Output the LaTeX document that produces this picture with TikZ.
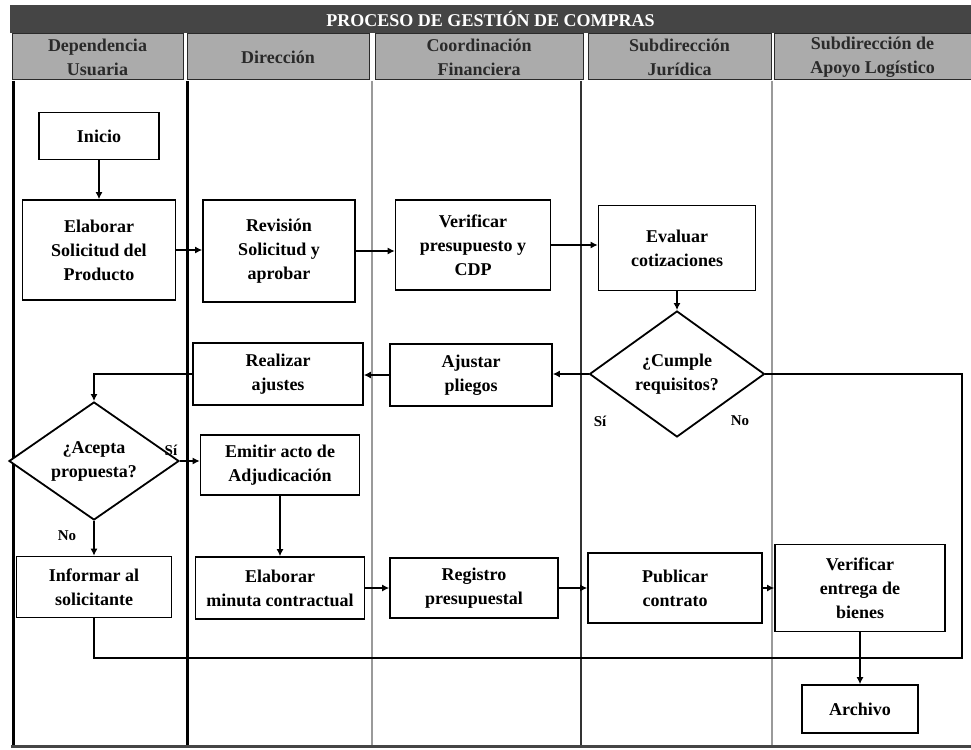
\documentclass[tikz,border=0pt]{standalone}
\usepackage{fontspec}
\setmainfont{Liberation Serif}
\usetikzlibrary{shapes.geometric,arrows.meta}
\definecolor{titlebg}{HTML}{454545}
\definecolor{headbg}{HTML}{ABABAB}
\definecolor{headfg}{HTML}{2A2A2A}
\definecolor{lanegray}{HTML}{9A9A9A}
\begin{document}
\begin{tikzpicture}[x=1pt,y=-1pt,
  txt/.style={font=\bfseries\fontsize{18}{24}\selectfont, align=center},
  box/.style={txt, draw=black, line width=1.6pt, fill=white, rectangle, inner sep=1pt},
  decision/.style={txt, draw=black, line width=1.8pt, fill=white, diamond, aspect=1.45, inner sep=0pt},
  head/.style={draw=headfg, line width=1pt, fill=headbg, text=headfg, align=center, inner sep=0pt, font=\bfseries\fontsize{18}{24}\selectfont},
  flow/.style={draw=black, line width=1.8pt, -{Latex[length=7pt,width=7pt]}},
  plain/.style={draw=black, line width=1.8pt},
  lbl/.style={font=\bfseries\fontsize{15}{17}\selectfont, inner sep=0pt},
  lanethick/.style={draw=black, line width=3pt},
  lanethin/.style={draw=lanegray, line width=1.3pt},
  lanedark/.style={draw=black!80, line width=1.5pt}
]
\useasboundingbox (0,0) rectangle (971,749);
% title bar
\node[fill=titlebg, text=white, minimum width=961pt, minimum height=28pt, inner sep=0pt, font=\bfseries\fontsize{18}{20}\selectfont] (title) at (490.5,19) {PROCESO DE GESTIÓN DE COMPRAS};
% headers
\node[head, minimum width=171pt, minimum height=46pt] (h1) at (97.5,57) {Dependencia\\Usuaria};
\node[head, minimum width=182pt, minimum height=46pt] (h2) at (278,57) {Dirección};
\node[head, minimum width=208pt, minimum height=46pt] (h3) at (479,57) {Coordinación\\Financiera};
\node[head, minimum width=183pt, minimum height=46pt] (h4) at (679.5,57) {Subdirección\\Jurídica};
\node[head, minimum width=197pt, minimum height=46pt] (h5) at (872.5,57) {Subdirección de\\Apoyo Logístico};
% lanes
\draw[lanethick] (13,81) -- (13,745);
\draw[lanethick] (187,81) -- (187,745);
\draw[lanethin] (372,81) -- (372,745);
\draw[lanedark] (581,81) -- (581,745);
\draw[lanethin] (772,81) -- (772,745);
\draw[draw=titlebg, line width=3pt] (11,746) -- (971,746);
% nodes
\node[box, minimum width=120pt, minimum height=47pt] (start) at (99,136) {Inicio};
\node[box, minimum width=153pt, minimum height=100pt] (n1) at (99,250) {Elaborar\\Solicitud del\\Producto};
\node[box, minimum width=152pt, minimum height=102pt] (n2) at (279,251) {Revisión\\Solicitud y\\aprobar};
\node[box, minimum width=155pt, minimum height=90pt] (n3) at (473,245) {Verificar\\presupuesto y\\CDP};
\node[box, minimum width=157pt, minimum height=85pt] (n4) at (677,248) {Evaluar\\cotizaciones};
\node[decision, minimum width=175pt, minimum height=126pt] (d2) at (677,374) {¿Cumple\\requisitos?};
\node[box, minimum width=162pt, minimum height=62pt] (n5) at (471,375) {Ajustar\\pliegos};
\node[box, minimum width=170pt, minimum height=62pt] (n6) at (278,374) {Realizar\\ajustes};
\node[decision, minimum width=170pt, minimum height=118pt] (d1) at (94,461) {¿Acepta\\propuesta?};
\node[box, minimum width=159pt, minimum height=60pt] (n7) at (280,465) {Emitir acto de\\Adjudicación};
\node[box, minimum width=155pt, minimum height=61pt] (n8) at (94,587) {Informar al\\solicitante};
\node[box, minimum width=169pt, minimum height=62pt] (n9) at (280,588) {Elaborar\\minuta contractual};
\node[box, minimum width=168pt, minimum height=60pt] (n10) at (474,588) {Registro\\presupuestal};
\node[box, minimum width=174pt, minimum height=70pt] (n11) at (675,588) {Publicar\\contrato};
\node[box, minimum width=170pt, minimum height=87pt] (n12) at (860,588) {Verificar\\entrega de\\bienes};
\node[box, minimum width=116pt, minimum height=48pt] (end) at (860,709) {Archivo};
% labels
\node[lbl] (ld2a) at (600,421) {Sí};
\node[lbl] (ld2b) at (740,421) {No};
\node[lbl] (ld1a) at (171,450) {Sí};
\node[lbl] (ld1b) at (67,536) {No};
% helper coordinates
\coordinate (bl) at (860,658);
\coordinate (rc) at (962,658);
% connectors
\draw[flow] (start) -- (n1);
\draw[flow] (n1.east) -- (n2.west |- n1.east);
\draw[flow] (n2.east) -- (n3.west |- n2.east);
\draw[flow] (n3.east) -- (n4.west |- n3.east);
\draw[flow] (n4) -- (d2);
\draw[flow] (d2.west) -- (n5.east |- d2.west);
\draw[flow] (n5.west) -- (n6.east |- n5.west);
\draw[flow] (n6.west) -- (d1.north |- n6.west) -- (d1.north);
\draw[flow] (d1.east) -- (n7.west |- d1.east);
\draw[flow] (d1.south) -- (n8.north);
\draw[flow] (n7.south) -- (n9.north);
\draw[flow] (n9) -- (n10);
\draw[flow] (n10) -- (n11);
\draw[flow] (n11) -- (n12);
\draw[plain] (n8.south) -- (n8.south |- bl) -- (bl);
\draw[plain] (d2.east) -- (rc |- d2.east) -- (rc) -- (bl);
\draw[flow] (n12.south) -- (end.north);
\end{tikzpicture}
\end{document}
